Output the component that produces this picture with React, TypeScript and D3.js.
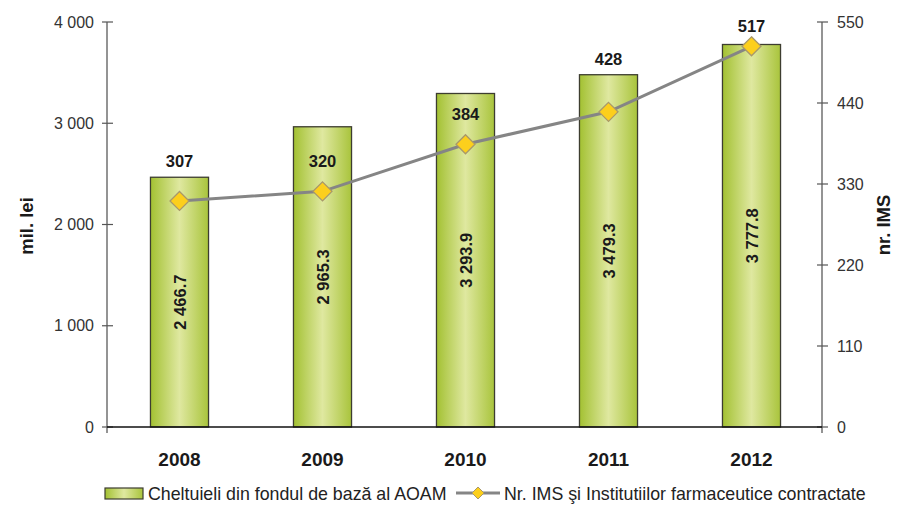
import React from "react";
import * as d3 from "d3";

const years = ["2008", "2009", "2010", "2011", "2012"];
const spending = [2466.7, 2965.3, 3293.9, 3479.3, 3777.8];
const institutions = [307, 320, 384, 428, 517];
const leftTicks = [0, 1000, 2000, 3000, 4000];
const rightTicks = [0, 110, 220, 330, 440, 550];
const barLegend = "Cheltuieli din fondul de bază al AOAM";
const lineLegend = "Nr. IMS şi Institutiilor farmaceutice contractate";
const leftTitle = "mil. lei";
const rightTitle = "nr. IMS";

const W = 900;
const H = 507;
const L = 107;
const R = 822;
const T = 22;
const B = 427;

const fmt = (v: number) => {
  const s = v.toFixed(v % 1 === 0 ? 0 : 1);
  const [i, d] = s.split(".");
  const ii = i.replace(/\B(?=(\d{3})+(?!\d))/g, " ");
  return d ? `${ii}.${d}` : ii;
};

export default function App() {
  const x = d3.scaleBand<string>().domain(years).range([L + 1, R + 1]).paddingInner(0.594).paddingOuter(0.297);
  const yL = d3.scaleLinear().domain([0, 4000]).range([B, T]);
  const yR = d3.scaleLinear().domain([0, 550]).range([B, T]);
  const bw = x.bandwidth();
  const font = "'Liberation Sans', Arial, sans-serif";
  const lineGen = d3
    .line<number>()
    .x((_, i) => (x(years[i]) as number) + bw / 2)
    .y((d) => yR(d));
  const diamond = (cx: number, cy: number, r: number) =>
    `M${cx},${cy - r}L${cx + r},${cy}L${cx},${cy + r}L${cx - r},${cy}Z`;

  return (
    <svg width={W} height={H} style={{ position: "absolute", left: 0, top: 0, background: "#fff" }} fontFamily={font}>
      <defs>
        <linearGradient id="barGrad" x1="0" x2="1" y1="0" y2="0">
          <stop offset="0" stopColor="#a3c132" />
          <stop offset="0.5" stopColor="#dfe8a0" />
          <stop offset="1" stopColor="#a9c43c" />
        </linearGradient>
      </defs>

      {/* bars */}
      {spending.map((v, i) => {
        const bx = x(years[i]) as number;
        return (
          <rect key={i} x={bx} y={yL(v)} width={bw} height={B - yL(v)} fill="url(#barGrad)" stroke="#3d3d30" strokeWidth={1.3} />
        );
      })}

      {/* bar value labels */}
      {spending.map((v, i) => {
        const cx = (x(years[i]) as number) + bw / 2;
        const cy = (yL(v) + B) / 2;
        return (
          <text key={i} transform={`translate(${cx + 6},${cy}) rotate(-90)`} textAnchor="middle" fontSize={16.5} fontWeight="bold" fill="#1a1a1a">
            {fmt(v)}
          </text>
        );
      })}

      {/* left axis */}
      <line x1={L} x2={L} y1={T} y2={B + 6} stroke="#707070" strokeWidth={1.5} />
      {leftTicks.map((t) => (
        <g key={t}>
          <line x1={L - 5} x2={L + 6} y1={yL(t)} y2={yL(t)} stroke="#555" strokeWidth={1.2} />
          <text x={L - 13} y={yL(t) + 5.5} textAnchor="end" fontSize={16} fill="#333">
            {fmt(t)}
          </text>
        </g>
      ))}

      {/* right axis */}
      <line x1={R} x2={R} y1={T} y2={B + 6} stroke="#707070" strokeWidth={1.5} />
      {rightTicks.map((t) => (
        <g key={t}>
          <line x1={R - 5} x2={R + 6} y1={yR(t)} y2={yR(t)} stroke="#555" strokeWidth={1.2} />
          <text x={R + 15} y={yR(t) + 5.5} textAnchor="start" fontSize={16} fill="#333">
            {t}
          </text>
        </g>
      ))}

      {/* baseline */}
      <line x1={L} x2={R} y1={B} y2={B} stroke="#111" strokeWidth={1.3} />

      {/* year labels */}
      {years.map((yv) => (
        <text key={yv} x={(x(yv) as number) + bw / 2} y={466} textAnchor="middle" fontSize={19} fontWeight="bold" fill="#1a1a1a">
          {yv}
        </text>
      ))}

      {/* line */}
      <path d={lineGen(institutions) || ""} fill="none" stroke="#858585" strokeWidth={3} />
      {institutions.map((v, i) => {
        const cx = (x(years[i]) as number) + bw / 2;
        return <path key={i} d={diamond(cx, yR(v), 9.5)} fill="#fccf1c" stroke="#a8986a" strokeWidth={1.3} />;
      })}
      {institutions.map((v, i) => {
        const cx = (x(years[i]) as number) + bw / 2;
        const top = yL(spending[i]);
        let by = yR(v) - 24;
        if (Math.abs(by - top) < 14) by = top - 10;
        by = Math.max(by, T + 10);
        return (
          <text key={i} x={cx} y={by} textAnchor="middle" fontSize={16.5} fontWeight="bold" fill="#1a1a1a">
            {v}
          </text>
        );
      })}

      {/* axis titles */}
      <text transform={`translate(${33},${226}) rotate(-90)`} textAnchor="middle" fontSize={18.5} fontWeight="bold" fill="#1a1a1a">
        {leftTitle}
      </text>
      <text transform={`translate(${890},${225}) rotate(-90)`} textAnchor="middle" fontSize={18.5} fontWeight="bold" fill="#1a1a1a">
        {rightTitle}
      </text>

      {/* legend */}
      <rect x={105} y={488} width={38} height={11} fill="url(#barGrad)" stroke="#3d3d30" strokeWidth={1.2} />
      <text x={148} y={500} fontSize={17.8} fill="#222">
        {barLegend}
      </text>
      <line x1={456} x2={500} y1={493} y2={493} stroke="#858585" strokeWidth={3} />
      <path d={diamond(478, 493, 6)} fill="#fccf1c" stroke="#a8986a" strokeWidth={1} />
      <text x={504} y={500} fontSize={17.8} fill="#222">
        {lineLegend}
      </text>
    </svg>
  );
}
